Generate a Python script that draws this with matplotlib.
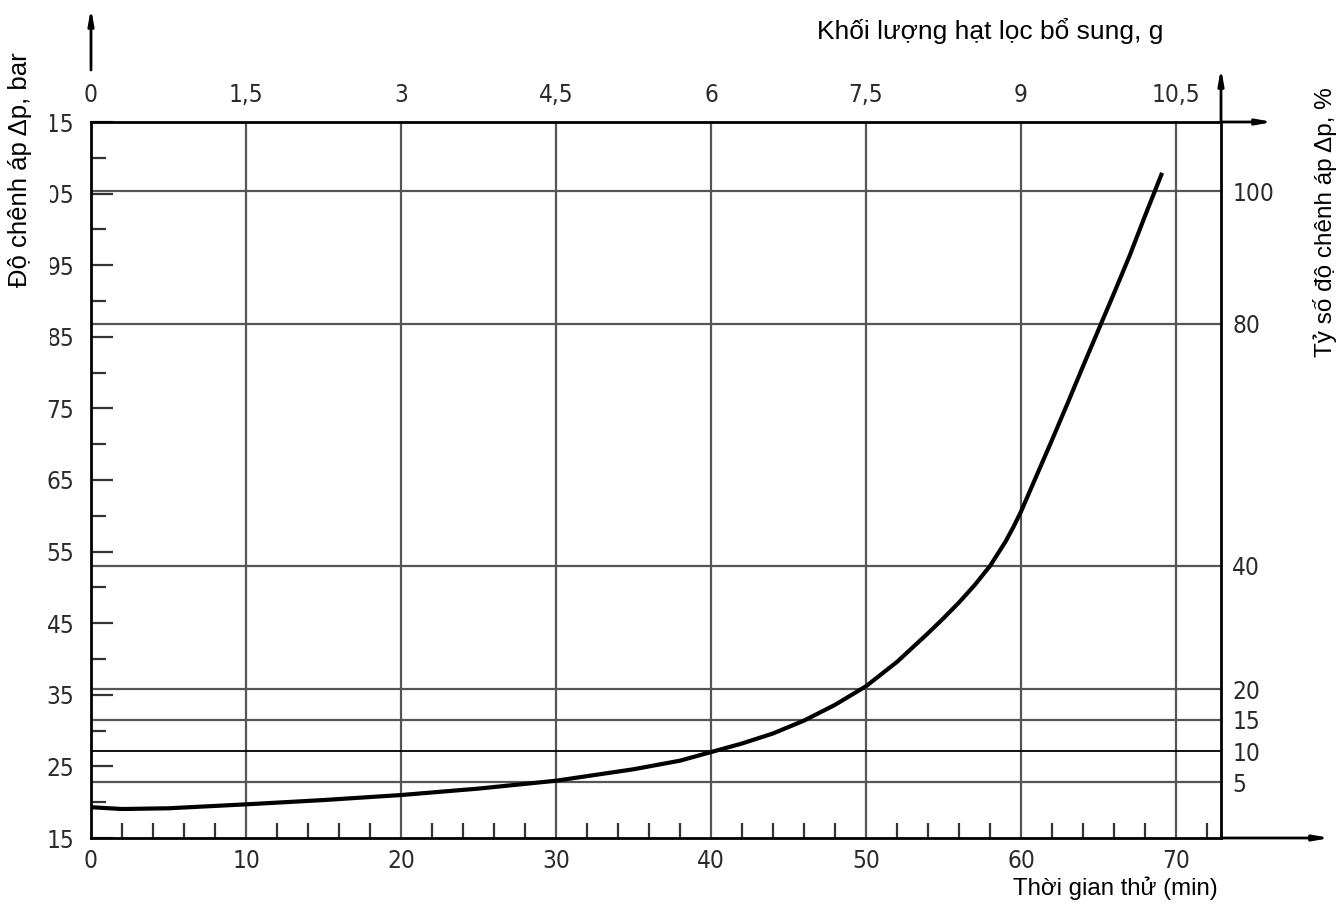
import matplotlib
matplotlib.use("Agg")
import matplotlib.pyplot as plt
from matplotlib.patches import Rectangle

# ---- data ----
time_min = [0, 2, 5, 10, 15, 20, 25, 30, 35, 38, 40, 42, 44, 46, 48, 50, 52, 54, 55, 56,
            57, 58, 59, 59.5, 60, 61, 62, 63, 64, 65, 66, 67, 68, 69.1]
dp_bar = [19.3, 19.05, 19.15, 19.7, 20.3, 21.0, 21.9, 23.0, 24.6, 25.8, 27.0, 28.2, 29.6, 31.4,
          33.6, 36.2, 39.6, 43.6, 45.7, 47.9, 50.3, 53.0, 56.4, 58.4, 60.6, 65.6, 70.6, 75.7,
          80.9, 86.0, 91.1, 96.3, 101.9, 107.9]

time_ticks = [0, 10, 20, 30, 40, 50, 60, 70]
time_minor = [2, 4, 6, 8, 12, 14, 16, 18, 22, 24, 26, 28, 32, 34, 36, 38, 42, 44, 46, 48,
              52, 54, 56, 58, 62, 64, 66, 68, 72]
dp_ticks = [15, 25, 35, 45, 55, 65, 75, 85, 95, 105, 115]
dp_minor = [20, 30, 40, 50, 60, 70, 80, 90, 100, 110]
mass_ticks = [0, 1.5, 3, 4.5, 6, 7.5, 9, 10.5]
mass_labels = ["0", "1,5", "3", "4,5", "6", "7,5", "9", "10,5"]
ratio_labels = ["5", "10", "15", "20", "40", "80", "100"]
ratio_levels = [22.8, 27.1, 31.5, 35.8, 53.0, 86.8, 105.3]

X_MAX = 72.9
Y_MIN, Y_MAX = 15, 115
MASS_PER_MIN = 10.5 / 70

tick_font = dict(family=["DejaVu Sans"], fontsize=17.5, color="#2a2a2a", fontstretch="condensed")
label_font = ["Liberation Sans", "DejaVu Sans"]

fig = plt.figure(figsize=(13.4, 9.15), dpi=100)
ax = fig.add_axes([91 / 1340, 77 / 915, 1130 / 1340, 716 / 915])
ax.set_xlim(0, X_MAX)
ax.set_ylim(Y_MIN, Y_MAX)

for s in ax.spines.values():
    s.set_linewidth(2.0)
    s.set_color("black")

# grid lines
ax.vlines(time_ticks[1:], Y_MIN, Y_MAX, colors="#555555", lw=1.6, zorder=1)
for lab, lev in zip(ratio_labels, ratio_levels):
    if lab == "10":
        ax.hlines(lev, 0, X_MAX, colors="black", lw=1.3, zorder=1)
    else:
        ax.hlines(lev, 0, X_MAX, colors="#555555", lw=1.6, zorder=1)

# curve
ax.plot(time_min, dp_bar, color="black", lw=3.0, solid_capstyle="butt",
        solid_joinstyle="round", zorder=3)

# bottom axis ticks
ax.set_xticks(time_ticks)
ax.set_xticklabels([str(t) for t in time_ticks], **tick_font)
ax.set_xticks(time_minor, minor=True)
ax.tick_params(axis="x", which="major", length=0, pad=8)
ax.tick_params(axis="x", which="minor", direction="in", length=11, width=1.6, color="#333333")

# left axis ticks
ax.set_yticks(dp_ticks)
ax.set_yticklabels([str(t) for t in dp_ticks], **tick_font)
ax.set_yticks(dp_minor, minor=True)
ax.tick_params(axis="y", which="major", direction="in", length=16, width=1.6, color="#333333", pad=12)
ax.tick_params(axis="y", which="minor", direction="in", length=11, width=1.6, color="#333333")

# right ratio axis
ax2 = ax.twinx()
ax2.set_ylim(Y_MIN, Y_MAX)
ax2.set_yticks(ratio_levels)
ax2.set_yticklabels(ratio_labels, **tick_font)
ax2.tick_params(axis="y", length=0, pad=8)
for s in ax2.spines.values():
    s.set_visible(False)

# top mass axis
sec = ax.secondary_xaxis("top", functions=(lambda t: t * MASS_PER_MIN, lambda m: m / MASS_PER_MIN))
sec.set_xticks(mass_ticks)
sec.set_xticklabels(mass_labels, **tick_font)
sec.tick_params(length=0, pad=11)
sec.spines["top"].set_visible(False)

# arrows
arrow = dict(arrowstyle="-|>,head_length=0.9,head_width=0.16", lw=2.0, color="black",
             shrinkA=0, shrinkB=0)
ax.annotate("", xy=(0, (838 - 8) / 716), xytext=(0, (838 - 70) / 716),
            xycoords="axes fraction", arrowprops=arrow, annotation_clip=False)
ax.annotate("", xy=(1, (838 - 68) / 716), xytext=(1, 1),
            xycoords="axes fraction", arrowprops=arrow, annotation_clip=False)
ax.annotate("", xy=((1273 - 91) / 1130, 1), xytext=(1, 1),
            xycoords="axes fraction", arrowprops=arrow, annotation_clip=False)
ax.annotate("", xy=((1330 - 91) / 1130, 0), xytext=(1, 0),
            xycoords="axes fraction", arrowprops=arrow, annotation_clip=False)

# white band behind the left title (covers part of the upper tick labels, as in the reference)
fig.patches.append(Rectangle((0, 1 - 350 / 915), 50 / 1340, 350 / 915, transform=fig.transFigure,
                             facecolor="white", edgecolor="none", zorder=2))

# axis titles
fig.text(20 / 1340, 1 - 170 / 915, "Độ chênh áp Δp, bar", rotation=90, ha="center", va="center",
         family=label_font, fontsize=18.5, color="black", zorder=5)
fig.text(1325 / 1340, 1 - 222 / 915, "Tỷ số độ chênh áp Δp, %", rotation=90, ha="center", va="center",
         family=label_font, fontsize=17.5, color="black")
fig.text(990 / 1340, 1 - 31 / 915, "Khối lượng hạt lọc bổ sung, g", ha="center", va="center",
         family=label_font, fontsize=19, color="black")
fig.text(1115 / 1340, 1 - 888 / 915, "Thời gian thử (min)", ha="center", va="center",
         family=label_font, fontsize=17.3, color="black")

fig.savefig("out.png", dpi=100)
